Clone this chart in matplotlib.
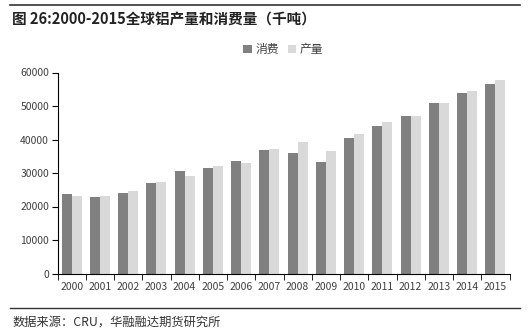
import numpy as np
import matplotlib.pyplot as plt
from matplotlib.lines import Line2D

plt.rcParams['font.family'] = ['Noto Sans CJK SC', 'DejaVu Sans']

# data (thousand tonnes)
years = ['2000', '2001', '2002', '2003', '2004', '2005', '2006', '2007',
         '2008', '2009', '2010', '2011', '2012', '2013', '2014', '2015']
consumption = [23780, 22690, 24080, 26870, 30650, 31640, 33630, 36720,
               36020, 33230, 40500, 44080, 47060, 50750, 53930, 56420]
production = [23180, 23180, 24680, 27360, 29150, 32140, 33130, 37110,
              39300, 36620, 41590, 45270, 47000, 51040, 54530, 57810]
yticks = [0, 10000, 20000, 30000, 40000, 50000, 60000]

fig = plt.figure(figsize=(5.3, 3.34), dpi=100)
ax = fig.add_axes([57.5 / 530, 1 - 273.5 / 334, 452 / 530, 201 / 334])

x = np.arange(len(years))
w = 0.35
ax.bar(x - w / 2, consumption, w, color='#808080', label='消费')
ax.bar(x + w / 2, production, w, color='#d9d9d9', label='产量')

ax.set_xlim(-0.5, len(years) - 0.5)
ax.set_ylim(0, 60000)
ax.set_yticks(yticks)
ax.set_yticklabels([str(v) for v in yticks])
ax.set_xticks(x)
ax.set_xticklabels(years)
ax.set_xticks(np.arange(-0.5, len(years)), minor=True)
ax.tick_params(axis='x', which='major', length=0, labelsize=7.5,
               labelcolor='#404040', pad=6)
ax.tick_params(axis='x', which='minor', length=4, direction='out', color='black')
ax.tick_params(axis='y', length=4, direction='out', labelsize=7.5,
               labelcolor='#404040', pad=2)

ax.spines['top'].set_visible(False)
ax.spines['right'].set_visible(False)

leg = ax.legend(loc='lower center', bbox_to_anchor=(0.5, 1.03), ncol=2,
                frameon=False, fontsize=8.5, handlelength=0.7, handleheight=0.7,
                handletextpad=0.3, columnspacing=0.8, labelcolor='#404040')

# title, rules and source note
fig.add_artist(Line2D([10 / 530, 520 / 530], [1 - 5 / 334, 1 - 5 / 334],
                      color='#333333', lw=1.2))
fig.text(12 / 530, 1 - 19 / 334, '图 26:2000-2015全球铝产量和消费量（千吨）',
         fontsize=10.5, fontweight='bold', va='center', color='#222222')
fig.add_artist(Line2D([10 / 530, 520 / 530], [1 - 308 / 334, 1 - 308 / 334],
                      color='#333333', lw=1))
fig.text(13 / 530, 1 - 322 / 334, '数据来源：CRU，华融融达期货研究所',
         fontsize=8.8, va='center', color='#333333')

fig.savefig('out.png', dpi=100)
